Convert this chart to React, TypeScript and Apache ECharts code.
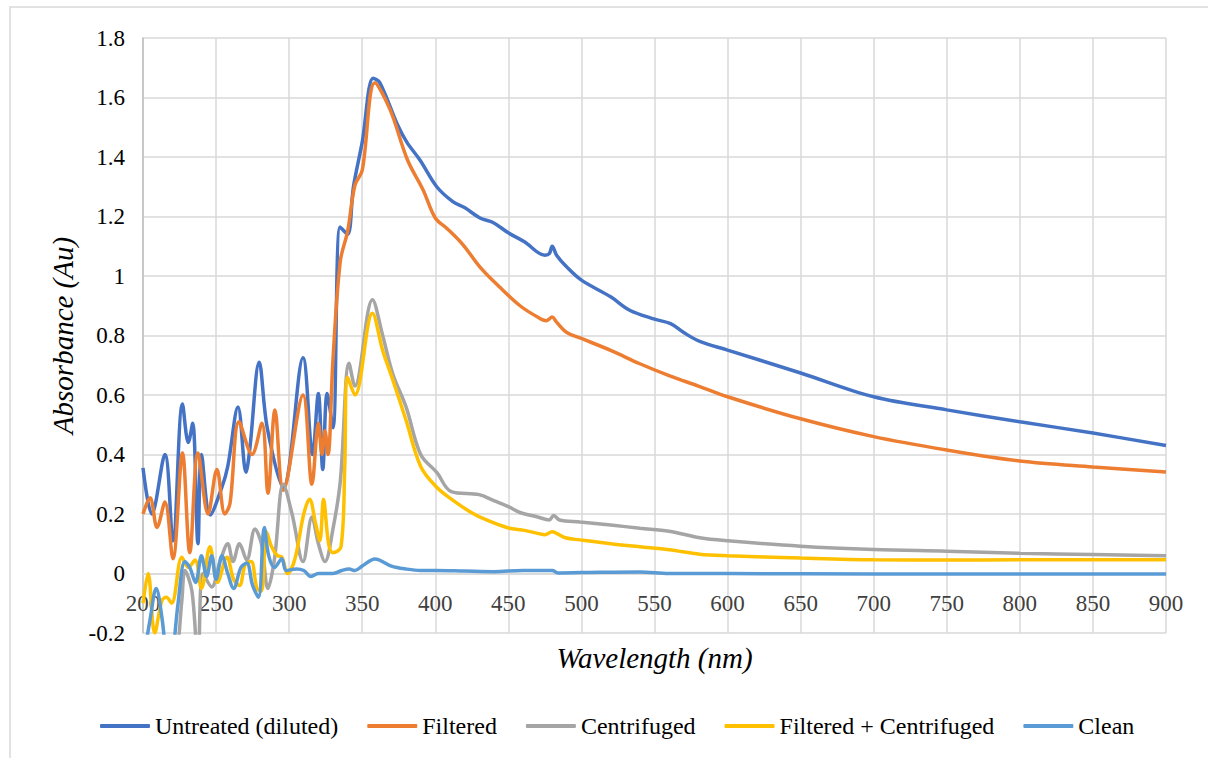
import React, { useEffect, useRef } from "react";
import * as echarts from "echarts";

const seriesNames = [
  "Untreated (diluted)",
  "Filtered",
  "Centrifuged",
  "Filtered + Centrifuged",
  "Clean",
];
const seriesColors = ["#4472C4", "#ED7D31", "#A5A5A5", "#FFC000", "#5B9BD5"];

const untreatedWl = [200, 206, 215, 220.5, 227, 231, 234, 237.6, 240, 246, 254, 258, 265, 270.5, 273, 279.5, 285, 296, 309.5, 316, 320, 323, 326, 330, 334.8, 340, 344, 350, 357.5, 362, 374, 380.5, 389.5, 401, 412, 420, 430.6, 439.5, 450, 461, 475, 478, 480, 483, 490, 500, 520, 533, 550, 561, 570, 581, 600, 650, 700, 750, 800, 850, 900];
const untreatedAbs = [0.355, 0.2, 0.4, 0.11, 0.57, 0.44, 0.505, 0.1, 0.4, 0.197, 0.29, 0.36, 0.56, 0.34, 0.415, 0.71, 0.49, 0.29, 0.725, 0.4, 0.605, 0.35, 0.605, 0.49, 1.165, 1.14, 1.3, 1.45, 1.665, 1.65, 1.51, 1.45, 1.39, 1.3, 1.25, 1.23, 1.195, 1.18, 1.145, 1.115, 1.07, 1.075, 1.1, 1.07, 1.03, 0.986, 0.93, 0.885, 0.855, 0.84, 0.81, 0.78, 0.751, 0.674, 0.594, 0.55, 0.51, 0.472, 0.43];

const filteredWl = [200, 204.8, 209.6, 215, 220.5, 227, 232, 237.6, 244.5, 250.6, 256, 259.5, 265.7, 274.6, 281.4, 285.5, 290.3, 296, 309.5, 315.6, 320, 322.5, 324.5, 326.6, 330, 335, 340, 345, 350, 358.7, 369, 381, 391.6, 400, 408, 419, 430.6, 444, 458, 470, 476, 480, 483, 490, 500, 520, 540, 560, 580, 600, 650, 700, 750, 800, 850, 900];
const filteredAbs = [0.2, 0.255, 0.155, 0.24, 0.05, 0.405, 0.07, 0.405, 0.2, 0.35, 0.2, 0.235, 0.51, 0.4, 0.505, 0.27, 0.55, 0.28, 0.6, 0.3, 0.505, 0.4, 0.48, 0.4, 0.72, 1.05, 1.15, 1.305, 1.355, 1.65, 1.56, 1.39, 1.29, 1.195, 1.16, 1.105, 1.03, 0.963, 0.9, 0.862, 0.85, 0.862, 0.845, 0.81, 0.79, 0.75, 0.705, 0.665, 0.63, 0.594, 0.52, 0.46, 0.415, 0.378, 0.358, 0.341];

const centrifugedWl = [200, 215, 222, 226.6, 228.7, 233.5, 237.6, 241, 247, 252.7, 258, 261.6, 266, 271, 276.6, 281, 285.5, 290, 296, 302, 309.5, 315.6, 320, 324.5, 330, 335, 341, 345, 357, 364, 371, 380, 390, 401, 411, 430, 440, 450, 458, 470, 478, 481, 485, 499, 520, 540, 560, 581, 600, 650, 700, 750, 800, 850, 900];
const centrifugedAbs = [-0.3, -0.35, -0.3, -0.09, 0.01, -0.06, -0.3, 0.0, -0.045, 0.04, 0.1, 0.04, 0.1, 0.045, 0.15, 0.1, -0.05, 0.05, 0.3, 0.2, 0.04, 0.19, 0.1, 0.04, 0.15, 0.31, 0.707, 0.63, 0.92, 0.8, 0.67, 0.56, 0.4, 0.34, 0.275, 0.265, 0.245, 0.225, 0.205, 0.19, 0.18, 0.195, 0.18, 0.173, 0.163, 0.152, 0.142, 0.12, 0.11, 0.092, 0.081, 0.075, 0.068, 0.064, 0.06];

const filtCentWl = [200, 203.5, 208, 213, 216, 219.6, 226.6, 231, 235.6, 240, 245.8, 251, 257.5, 262, 266, 270, 274, 278, 281, 284.5, 288, 292, 295, 299, 304, 310, 314, 318, 321, 323.5, 327, 330, 335.5, 338, 340, 345, 357, 364, 371, 380, 390, 401, 411, 424, 435, 450, 461, 470, 475, 480, 483, 489, 499, 520, 540, 560, 581, 600, 650, 700, 750, 800, 900];
const filtCentAbs = [-0.1, 0.0, -0.2, -0.09, -0.08, -0.1, 0.055, 0.02, 0.045, -0.05, 0.09, -0.03, 0.055, -0.02, -0.04, 0.03, 0.04, -0.05, -0.06, 0.14, 0.09, 0.06, 0.055, 0.0, 0.05, 0.2, 0.25, 0.17, 0.11, 0.25, 0.1, 0.07, 0.09, 0.35, 0.66, 0.6, 0.875, 0.75, 0.65, 0.515, 0.36, 0.29, 0.25, 0.207, 0.18, 0.153, 0.145, 0.135, 0.13, 0.14, 0.135, 0.12, 0.113, 0.1, 0.09, 0.08, 0.065, 0.06, 0.052, 0.046, 0.045, 0.046, 0.046];

const cleanWl = [200, 205, 209, 213, 218, 224, 228.7, 232, 236, 240, 243.5, 247, 250, 254, 258, 262, 267, 271, 275, 279, 283, 286, 290, 295, 298, 305, 310, 315, 320, 330, 336, 341, 345, 350, 358.7, 370, 380, 390, 400, 420, 440, 460, 480, 484, 500, 540, 560, 600, 700, 900];
const cleanAbs = [-0.3, -0.15, -0.05, -0.15, -0.35, -0.1, 0.04, 0.02, -0.03, 0.06, -0.01, 0.06, -0.02, 0.06, 0.0, -0.05, 0.02, 0.035, -0.04, -0.08, 0.155, 0.06, 0.02, 0.05, 0.01, 0.015, 0.01, -0.01, 0.0, 0.0, 0.01, 0.015, 0.01, 0.025, 0.049, 0.025, 0.015, 0.01, 0.01, 0.008, 0.006, 0.01, 0.01, 0.002, 0.003, 0.005, 0.0, 0.0, -0.002, -0.002];

const wlArrays = [untreatedWl, filteredWl, centrifugedWl, filtCentWl, cleanWl];
const absArrays = [untreatedAbs, filteredAbs, centrifugedAbs, filtCentAbs, cleanAbs];

const FONT = '"Times New Roman", "Liberation Serif", serif';

export default function App() {
  const ref = useRef<HTMLDivElement>(null);
  useEffect(() => {
    if (!ref.current) return;
    const chart = echarts.init(ref.current, undefined, { renderer: "svg" });
    const series = seriesNames.map((name, i) => ({
      name,
      type: "line",
      smooth: 0.35,
      symbol: "none",
      clip: true,
      data: wlArrays[i].map((w, j) => [w, absArrays[i][j]]),
      lineStyle: { color: seriesColors[i], width: 3.5 },
      itemStyle: { color: seriesColors[i] },
    }));
    chart.setOption({
      animation: false,
      backgroundColor: "#ffffff",
      textStyle: { fontFamily: FONT },
      graphic: [
        {
          type: "rect",
          silent: true,
          z: -10,
          shape: { x: 10, y: 7, width: 1210, height: 770 },
          style: { fill: "none", stroke: "#d9d9d9", lineWidth: 1.5 },
        },
      ],
      grid: { left: 143, right: 42, top: 38, bottom: 125 },
      xAxis: {
        type: "value",
        min: 200,
        max: 900,
        interval: 50,
        offset: -59.5,
        name: "Wavelength (nm)",
        nameLocation: "middle",
        nameGap: 70,
        nameTextStyle: { fontFamily: FONT, fontStyle: "italic", fontSize: 29, color: "#000" },
        axisLine: { onZero: false, lineStyle: { color: "#d9d9d9", width: 1.5 } },
        axisTick: { show: false },
        splitLine: { show: true, lineStyle: { color: "#d9d9d9", width: 1.5 } },
        axisLabel: { fontFamily: FONT, fontSize: 23, color: "#404040", margin: 18 },
      },
      yAxis: {
        type: "value",
        min: -0.2,
        max: 1.8,
        interval: 0.2,
        name: "Absorbance (Au)",
        nameLocation: "middle",
        nameRotate: 90,
        nameGap: 64,
        nameTextStyle: { fontFamily: FONT, fontStyle: "italic", fontSize: 29, color: "#000" },
        axisLine: { show: true, lineStyle: { color: "#bfbfbf", width: 1.5 } },
        axisTick: { show: false },
        splitLine: { show: true, lineStyle: { color: "#d9d9d9", width: 1.5 } },
        axisLabel: {
          fontFamily: FONT,
          fontSize: 23,
          color: "#000",
          margin: 18,
          formatter: (v: number) => String(Number(v.toFixed(1))),
        },
      },
      legend: {
        data: seriesNames,
        top: 714,
        left: 100,
        padding: 0,
        icon: "roundRect",
        itemWidth: 50,
        itemHeight: 4,
        itemGap: 29,
        textStyle: { fontFamily: FONT, fontSize: 24, color: "#000" },
      },
      series,
    });
    return () => chart.dispose();
  }, []);
  return (
    <div
      ref={ref}
      style={{ position: "absolute", left: 0, top: 0, width: 1208, height: 758 }}
    />
  );
}
